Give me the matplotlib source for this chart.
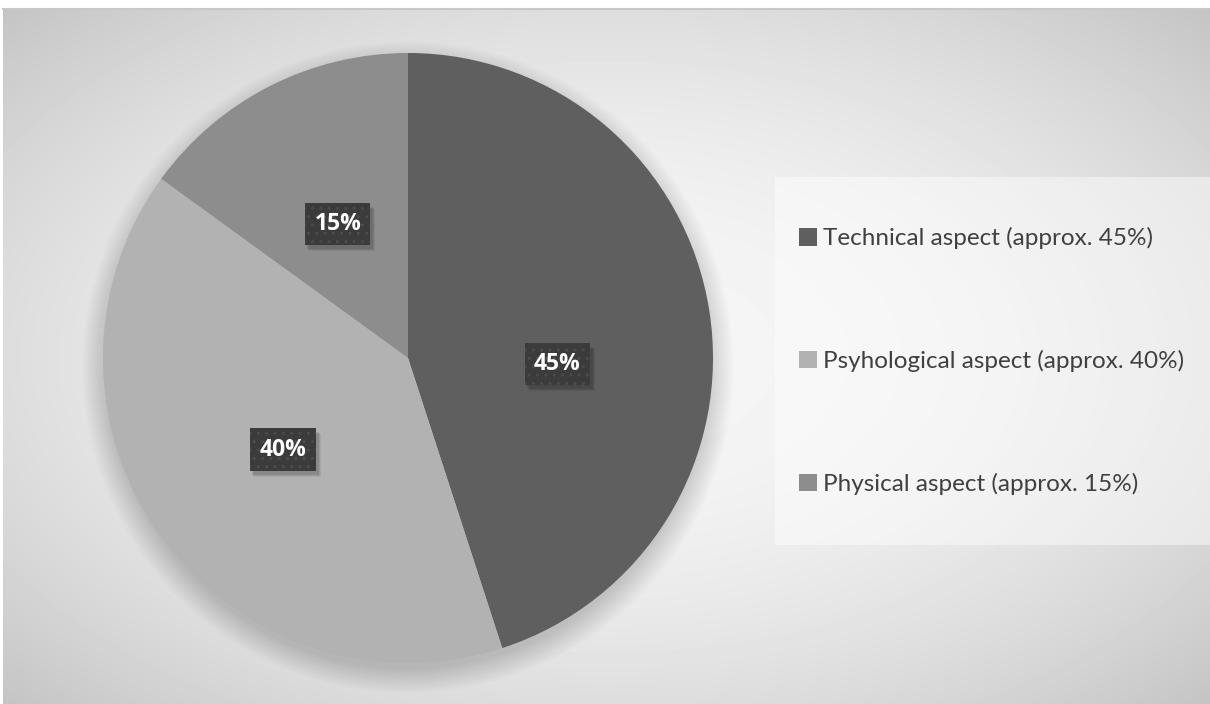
import matplotlib.pyplot as plt
from matplotlib.patches import Rectangle, Circle
import numpy as np

# share of each aspect
labels = ["Technical aspect (approx. 45%)",
          "Psyhological aspect (approx. 40%)",
          "Physical aspect (approx. 15%)"]
shares = [45, 40, 15]
pct_text = ["45%", "40%", "15%"]
colors = ["#5f5f5f", "#b2b2b2", "#8d8d8d"]

# where the % boxes sit inside the pie (axes data units)
label_xy = [(0.49, -0.02), (-0.41, -0.30), (-0.23, 0.44)]

W, H = 1210, 704
fig = plt.figure(figsize=(W / 100, H / 100), dpi=100)
fig.patch.set_facecolor("white")

# radial grey background
bg = fig.add_axes([3 / W, 0, 1 - 3 / W, 1 - 9 / H])
yy, xx = np.mgrid[0:H - 9, 0:W - 3]
cx, cy = (W - 3) / 2, (H - 9) / 2
r = np.sqrt(((xx - cx) / (W / 2)) ** 2 + ((yy - cy) / (H / 2)) ** 2) / np.sqrt(2)
shade = 0.965 - 0.20 * r ** 2.0
bg.imshow(shade, cmap="gray", vmin=0, vmax=1, aspect="auto", interpolation="bilinear")
bg.axis("off")
fig.add_artist(plt.Line2D([3 / W, 1], [1 - 9 / H, 1 - 9 / H], color="#c8c8c8", lw=1.5))

# legend panel
fig.add_artist(Rectangle((775 / W, 1 - 545 / H), 435 / W, 368 / H, transform=fig.transFigure,
                         facecolor="white", alpha=0.45, edgecolor="none"))

R = 305
ax = fig.add_axes([(408 - R) / W, (H - 358 - R) / H, 2 * R / W, 2 * R / H])
ax.set_xlim(-1, 1)
ax.set_ylim(-1, 1)
ax.axis("off")

# soft shadow under the pie
for k in range(14):
    ax.add_patch(Circle((0, -0.03), 0.99 + 0.006 * k, facecolor="black", clip_on=False,
                        alpha=0.011, edgecolor="none", zorder=0))

wedges, _ = ax.pie(shares, colors=colors, startangle=90, counterclock=False, radius=1,
                   wedgeprops=dict(linewidth=0), frame=False)
for w in wedges:
    w.set_zorder(2)
ax.set_xlim(-1, 1)
ax.set_ylim(-1, 1)

plt.rcParams["hatch.linewidth"] = 1.0
boxes = []
for (x, y), t in zip(label_xy, pct_text):
    txt = ax.text(x, y, t, ha="center", va="center", fontsize=16.5, fontweight="bold",
                  family="Open Sans", color="white", zorder=4,
                  bbox=dict(boxstyle="square,pad=0.4", facecolor="#3b3b3b", hatch="..",
                            edgecolor="#4b4b4b", linewidth=0))
    boxes.append(txt)

# drop shadow behind each label box
fig.canvas.draw()
for txt in boxes:
    ext = txt.get_bbox_patch().get_window_extent()
    for k, a in enumerate([0.10, 0.08, 0.06]):
        fig.add_artist(Rectangle(((ext.x0 + 2 + k) / W, (ext.y0 - 4 - k) / H),
                                 (ext.width + 1) / W, (ext.height) / H,
                                 transform=fig.transFigure, facecolor="black", alpha=a,
                                 edgecolor="none", zorder=1))
    txt.set_zorder(5)
    fig.add_artist(txt)

handles = [Rectangle((0, 0), 1, 1, facecolor=c, edgecolor="none") for c in colors]
fig.legend(handles, labels, loc="center left", bbox_to_anchor=(777 / W, 1 - 361 / H),
           frameon=False, prop=dict(family="Lato", size=17.5),
           labelcolor="#404040", handlelength=0.75, handleheight=0.75,
           handletextpad=0.25, labelspacing=4.15)

fig.savefig("out.png", dpi=100)
